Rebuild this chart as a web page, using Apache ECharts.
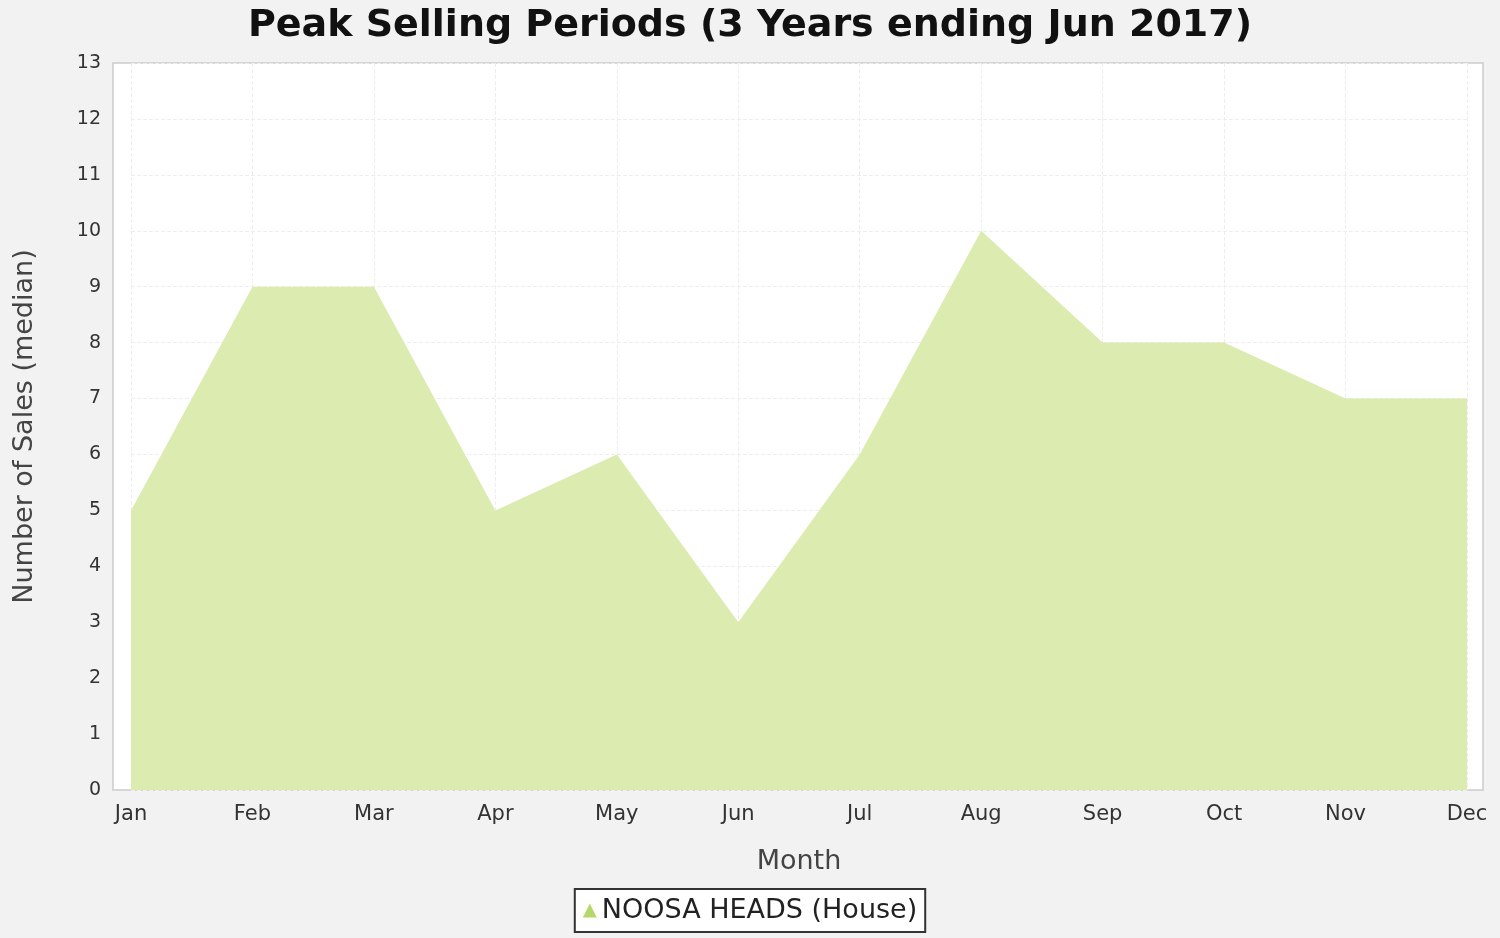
<!DOCTYPE html><html><head><meta charset="utf-8">
<script src="https://cdn.jsdelivr.net/npm/echarts@6/dist/echarts.min.js"></script>
<style>html,body{margin:0;background:#f2f2f2}#c{width:1500px;height:938px}</style></head><body><div id="c"></div>
<script>
const months=['Jan','Feb','Mar','Apr','May','Jun','Jul','Aug','Sep','Oct','Nov','Dec'];
const sales=[5,9,9,5,6,3,6,10,8,8,7,7];
const seriesName='NOOSA HEADS (House)';
const chart=echarts.init(document.getElementById('c'));
chart.setOption({
 backgroundColor:'#f2f2f2',
 title:{text:'Peak Selling Periods (3 Years ending Jun 2017)',left:'center',top:2,textStyle:{fontFamily:'DejaVu Sans',fontSize:38,fontWeight:'bold',color:'#111'}},
 graphic:[{type:'rect',z:-1,shape:{x:113,y:63,width:1370,height:727},style:{fill:'#fff',stroke:'#ccc',lineWidth:1.5}}],
 grid:{left:131,right:33,top:63,bottom:148},
 legend:{bottom:6,left:'center',data:[seriesName],icon:'path://M0,10 L5,0 L10,10 Z',itemWidth:14,itemHeight:14,
  textStyle:{fontFamily:'DejaVu Sans',fontSize:27,color:'#222'},borderColor:'#333',borderWidth:2,padding:[8,8],backgroundColor:'#fff'},
 xAxis:{type:'category',data:months,boundaryGap:false,name:'Month',nameLocation:'middle',nameGap:58,
  nameTextStyle:{fontFamily:'DejaVu Sans',fontSize:27,color:'#444'},
  axisLine:{show:false},axisTick:{show:false},
  axisLabel:{fontFamily:'DejaVu Sans',fontSize:21,color:'#333',margin:14},
  splitLine:{show:true,lineStyle:{color:'#eee',type:'dashed'}}},
 yAxis:{type:'value',min:0,max:13,interval:1,name:'Number of Sales (median)',nameLocation:'middle',nameGap:75,
  nameTextStyle:{fontFamily:'DejaVu Sans',fontSize:27,color:'#444'},
  axisLine:{show:false},axisTick:{show:false},offset:18,
  axisLabel:{fontFamily:'DejaVu Sans',fontSize:19,color:'#333',margin:12},
  splitLine:{show:true,lineStyle:{color:'#eee',type:'dashed'}}},
 series:[{name:seriesName,type:'line',data:sales,symbol:'none',lineStyle:{width:0},
  itemStyle:{color:'#b5d86a'},areaStyle:{color:'#dcebb0',opacity:1}}]
});
</script></body></html>
